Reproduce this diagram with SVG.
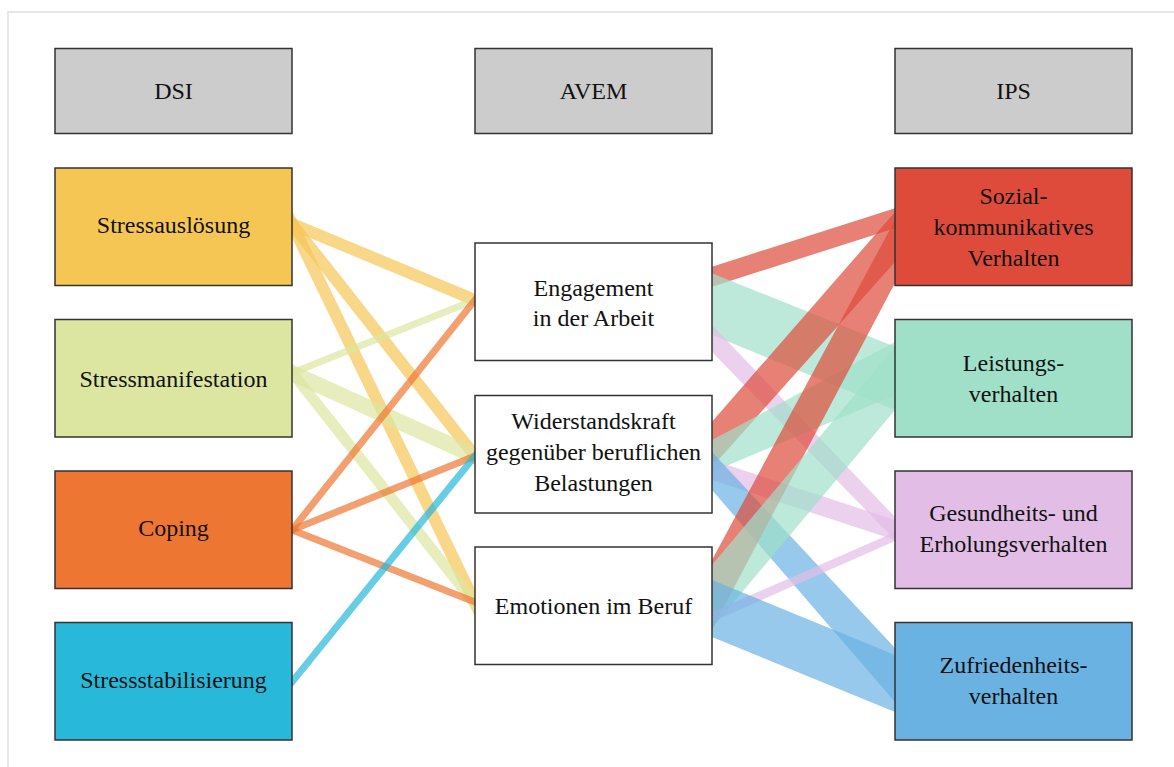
<svg xmlns="http://www.w3.org/2000/svg" width="1174" height="767" viewBox="0 0 1174 767">
<style>
.box{stroke:#333;stroke-width:1.5}
.hd{fill:#cccccc}
.mid{fill:#ffffff}
text{font-family:"Liberation Serif","Times New Roman",serif;font-size:24px;fill:#111;text-anchor:middle}
.ln{fill:none;stroke-linecap:butt;opacity:0.7}
.bd{opacity:0.7;stroke:none}
</style>
<rect x="0" y="0" width="1174" height="767" fill="#ffffff"/>
<rect x="8" y="12" width="1190" height="780" fill="none" stroke="#e0e0e0" stroke-width="1.5"/>
<g id="connectors">
  <line class="ln" x1="282" y1="219.8" x2="485" y2="304.2" stroke="#F6C655" stroke-width="12"/>
  <line class="ln" x1="282" y1="211.4" x2="485" y2="468.6" stroke="#F6C655" stroke-width="12"/>
  <line class="ln" x1="282" y1="203.3" x2="485" y2="623.7" stroke="#F6C655" stroke-width="12"/>
  <line class="ln" x1="282" y1="377" x2="485" y2="296" stroke="#DDE6A1" stroke-width="7"/>
  <line class="ln" x1="282" y1="368.5" x2="485" y2="460.5" stroke="#DDE6A1" stroke-width="16"/>
  <line class="ln" x1="282" y1="359.7" x2="485" y2="616.3" stroke="#DDE6A1" stroke-width="11"/>
  <line class="ln" x1="282" y1="542.6" x2="485" y2="287.4" stroke="#EE7633" stroke-width="7"/>
  <line class="ln" x1="282" y1="533.9" x2="485" y2="452.1" stroke="#EE7633" stroke-width="7"/>
  <line class="ln" x1="282" y1="525.9" x2="485" y2="606.1" stroke="#EE7633" stroke-width="7"/>
  <line class="ln" x1="282" y1="694.4" x2="485" y2="443.6" stroke="#27B8DA" stroke-width="7"/>
  <polygon class="bd" fill="#DE4B3A" points="712,266.7 895,208.3 895,228.3 712,286.7"/>
  <polygon class="bd" fill="#A0E0C9" points="712,273.3 895,346.7 895,410 712,335"/>
  <polygon class="bd" fill="#E2BEE6" points="712,325 895,517 895,540 712,352"/>
  <polygon class="bd" fill="#DE4B3A" points="712,421.7 895,212 895,262 712,467"/>
  <polygon class="bd" fill="#A0E0C9" points="712,440 895,342 895,395 712,472"/>
  <polygon class="bd" fill="#E2BEE6" points="712,460 895,520 895,540 712,480"/>
  <polygon class="bd" fill="#6AB2E2" points="712,452 895,648 895,702 712,490"/>
  <polygon class="bd" fill="#DE4B3A" points="712,560 895,220 895,283 712,629"/>
  <polygon class="bd" fill="#A0E0C9" points="712,565 895,347 895,410 712,628"/>
  <polygon class="bd" fill="#E2BEE6" points="712,612 895,532 895,541 712,622"/>
  <polygon class="bd" fill="#6AB2E2" points="712,580 895,655 895,712 712,637"/>
</g>
<g id="hdr-dsi"><rect class="box hd" x="55" y="48.5" width="237" height="85"/><text x="173.5" y="99">DSI</text></g>
<g id="hdr-avem"><rect class="box hd" x="475" y="48.5" width="237" height="85"/><text x="593.5" y="99">AVEM</text></g>
<g id="hdr-ips"><rect class="box hd" x="895" y="48.5" width="237" height="85"/><text x="1013.5" y="99">IPS</text></g>

<g id="dsi-1"><rect class="box" fill="#F6C655" x="55" y="168" width="237" height="117.5"/><text x="173.5" y="233">Stressauslösung</text></g>
<g id="dsi-2"><rect class="box" fill="#DDE6A1" x="55" y="319.5" width="237" height="117.5"/><text x="173.5" y="387">Stressmanifestation</text></g>
<g id="dsi-3"><rect class="box" fill="#EE7633" x="55" y="471" width="237" height="117.5"/><text x="173.5" y="536">Coping</text></g>
<g id="dsi-4"><rect class="box" fill="#27B8DA" x="55" y="622.5" width="237" height="117.5"/><text x="173.5" y="688">Stressstabilisierung</text></g>

<g id="avem-1"><rect class="box mid" x="475" y="243" width="237" height="117.5"/><text x="593.5" y="296">Engagement</text><text x="593.5" y="326">in der Arbeit</text></g>
<g id="avem-2"><rect class="box mid" x="475" y="395.5" width="237" height="117.5"/><text x="593.5" y="429">Widerstandskraft</text><text x="593.5" y="460">gegenüber beruflichen</text><text x="593.5" y="491">Belastungen</text></g>
<g id="avem-3"><rect class="box mid" x="475" y="547" width="237" height="117.5"/><text x="593.5" y="614">Emotionen im Beruf</text></g>

<g id="ips-1"><rect class="box" fill="#DE4B3A" x="895" y="168" width="237" height="117.5"/><text x="1013.5" y="204">Sozial-</text><text x="1013.5" y="235">kommunikatives</text><text x="1013.5" y="266">Verhalten</text></g>
<g id="ips-2"><rect class="box" fill="#A0E0C9" x="895" y="319.5" width="237" height="117.5"/><text x="1013.5" y="371">Leistungs-</text><text x="1013.5" y="402">verhalten</text></g>
<g id="ips-3"><rect class="box" fill="#E2BEE6" x="895" y="471" width="237" height="117.5"/><text x="1013.5" y="521">Gesundheits- und</text><text x="1013.5" y="552">Erholungsverhalten</text></g>
<g id="ips-4"><rect class="box" fill="#6AB2E2" x="895" y="622.5" width="237" height="117.5"/><text x="1013.5" y="673">Zufriedenheits-</text><text x="1013.5" y="704">verhalten</text></g>
</svg>
